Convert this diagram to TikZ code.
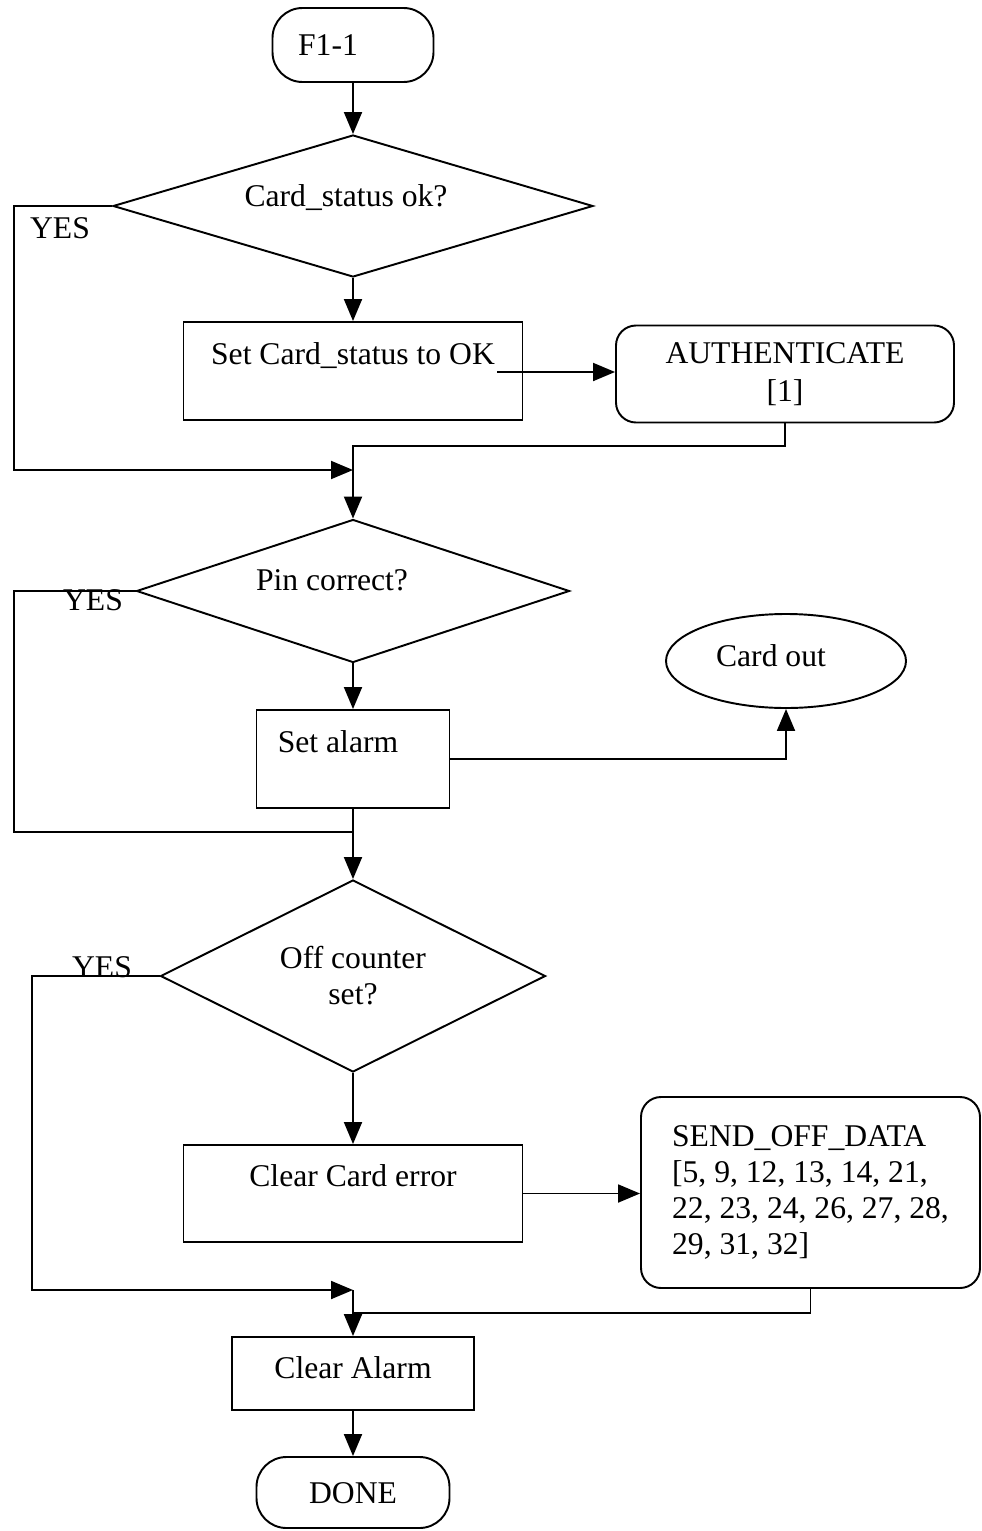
\documentclass[tikz,border=0pt]{standalone}
\usepackage{fontspec}
\setmainfont{Liberation Serif}
\usetikzlibrary{shapes.geometric, arrows.meta}

% one unit of the drawing grid
\newdimen\pxl
\pxl=0.02cm

\begin{document}
\begin{tikzpicture}[x=0.02cm, y=-0.02cm, line width=1.1pt,
    every node/.style={font=\fontsize{18}{20.5}\selectfont},
    oneline/.style={text height=21\pxl, text depth=#1},
    oneline/.default=0pt,
    terminal/.style={draw, rectangle, rounded corners=0.6cm, inner sep=0pt},
    decision/.style={draw, diamond, inner sep=0pt},
    process/.style={draw, rectangle, inner sep=0pt},
    subroutine/.style={draw, rectangle, rounded corners=0.4cm},
    flowarrow/.style={-{Triangle[length=0.44cm, width=0.36cm]}}]
    \useasboundingbox (0,0) rectangle (981,1531);

    % main column
    \node[terminal, oneline, minimum width=161\pxl, minimum height=74\pxl] (start) at (353,45) {F1-1\hspace*{50\pxl}};
    \node[decision, oneline=20\pxl, shape aspect=3.38, minimum width=480\pxl, minimum height=142\pxl] (cardok) at (353,206) {Card\_status ok?\hspace*{14\pxl}};
    \node[process, oneline=34\pxl, minimum width=339\pxl, minimum height=98\pxl] (setok) at (353,371) {Set Card\_status to OK};
    \node[decision, oneline=22\pxl, shape aspect=3.03, minimum width=433\pxl, minimum height=143\pxl] (pin) at (353,591) {Pin correct?\hspace*{42\pxl}};
    \node[process, oneline=34\pxl, minimum width=193\pxl, minimum height=98\pxl] (alarm) at (353,759) {Set alarm\hspace*{30\pxl}};
    \node[decision, align=center, shape aspect=2, minimum width=385\pxl, minimum height=192\pxl] (offcnt) at (353,976) {Off counter\\set?};
    \node[process, oneline=35\pxl, minimum width=339\pxl, minimum height=97\pxl] (clrerr) at (353,1193.5) {Clear Card error};
    \node[process, oneline=11\pxl, minimum width=242\pxl, minimum height=73\pxl] (clralarm) at (353,1373.5) {Clear Alarm};
    \node[terminal, oneline, minimum width=193\pxl, minimum height=71\pxl] (done) at (353,1492.5) {DONE};

    % side blocks
    \node[subroutine, align=center, font=\fontsize{18}{22}\selectfont, minimum width=338\pxl, minimum height=97\pxl] (auth) at (785,374) {AUTHENTICATE\\{[1]}};
    \node[draw, ellipse, oneline=10\pxl, minimum width=240\pxl, minimum height=94\pxl] (cardout) at (786,661) {Card out\hspace*{30\pxl}};
    \node[subroutine, align=left, minimum width=339\pxl, minimum height=191\pxl] (senddata) at (810.5,1192.5)
        {SEND\_OFF\_DATA\\{[5, 9, 12, 13, 14, 21,}\\22, 23, 24, 26, 27, 28,\\29, 31, 32]};

    % branch labels
    \node[oneline] (yes1) at (60,228) {YES};
    \node[oneline] (yes2) at (93,600) {YES};
    \node[oneline] (yes3) at (102,967) {YES};

    % bends and joins
    \coordinate (okout) at (497,372);
    \coordinate (bend1) at (14,206);
    \coordinate (join1) at (353,470);
    \coordinate (join2) at (353,446);
    \coordinate (bend2) at (14,591);
    \coordinate (join3) at (353,832);
    \coordinate (bend3) at (32,976);
    \coordinate (join4) at (353,1290);
    \coordinate (join5) at (353,1313);

    \draw[flowarrow] (start.south) -- (cardok.north);
    \draw[flowarrow] (cardok.west) -- (bend1) |- (join1);
    \draw[flowarrow] (cardok.south) -- (setok.north);
    \draw[flowarrow] (okout) -- (okout -| auth.west);
    \draw[flowarrow] (auth.south) |- (join2) -- (pin.north);
    \draw (pin.west) -- (bend2) |- (join3);
    \draw[flowarrow] (pin.south) -- (alarm.north);
    \draw[flowarrow] (alarm.east) -| (cardout.south);
    \draw[flowarrow] (alarm.south) -- (offcnt.north);
    \draw[flowarrow] (offcnt.west) -- (bend3) |- (join4);
    \draw[flowarrow] (offcnt.south) -- (clrerr.north);
    \draw[flowarrow] (clrerr.east) -- (clrerr.east -| senddata.west);
    \draw[flowarrow] (senddata.south) |- (join5) -- (clralarm.north);
    \draw (join4) -- (join5);
    \draw[flowarrow] (clralarm.south) -- (done.north);
\end{tikzpicture}
\end{document}
